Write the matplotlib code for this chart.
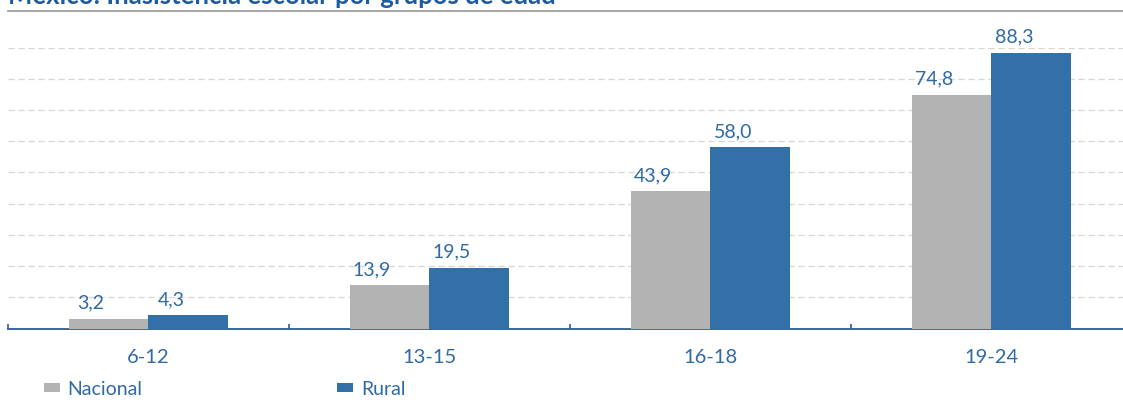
import matplotlib.pyplot as plt
from matplotlib.lines import Line2D
import numpy as np

plt.rcParams['font.family'] = ['Lato', 'DejaVu Sans']

title = "México: Inasistencia escolar por grupos de edad"
grupos = ["6-12", "13-15", "16-18", "19-24"]
nacional = [3.2, 13.9, 43.9, 74.8]
rural = [4.3, 19.5, 58.0, 88.3]

gray = "#b3b3b4"
blue = "#3470a8"
txt = "#2f6aa7"

W, H = 1123, 406
fig = plt.figure(figsize=(W / 100, H / 100), dpi=100)
ax = fig.add_axes([8 / W, 76.5 / H, 1124 / W, 281 / H])

x = np.arange(len(grupos))
w = 0.284
b1 = ax.bar(x - w / 2, nacional, w, color=gray, label="Nacional", zorder=3)
b2 = ax.bar(x + w / 2, rural, w, color=blue, label="Rural", zorder=3)

for bars, vals in ((b1, nacional), (b2, rural)):
    for r, v in zip(bars, vals):
        ax.text(r.get_x() + r.get_width() * 0.28, v + 2.6, f"{v:.1f}".replace(".", ","),
                ha="center", va="bottom", fontsize=14, color=txt, clip_on=False)

ax.set_xlim(-0.5, 3.5)
ax.set_ylim(0, 90)
ax.set_yticks(np.arange(10, 91, 10))
ax.yaxis.grid(True, color="#d6d6d6", linestyle=(0, (5, 3)), linewidth=0.9, zorder=0)
ax.tick_params(axis="y", left=False, labelleft=False)

ax.set_xticks(x)
ax.set_xticklabels(grupos)
ax.tick_params(axis="x", length=0, pad=14, labelsize=14.5, labelcolor=txt)
ax.set_xticks(np.arange(-0.5, 4, 1), minor=True)
ax.tick_params(axis="x", which="minor", direction="in", length=3.5, width=1.2, color="#2a5c9a")

for s in ("left", "right", "top"):
    ax.spines[s].set_visible(False)
ax.spines["bottom"].set_color("#2a5c9a")
ax.spines["bottom"].set_linewidth(1.3)

fig.text(8 / W, 1 - 3.5 / H, title, ha="left", va="baseline", fontsize=18.5,
         fontweight="bold", color="#1c5ba0")
fig.add_artist(Line2D([8 / W, 1], [1 - 12 / H] * 2, color="#a0a0a0", linewidth=1.3,
                      transform=fig.transFigure))

fig.legend(handles=[b1, b2], loc="center left", bbox_to_anchor=(44 / W, 1 - 390 / H),
           ncol=2, frameon=False, fontsize=14, labelcolor=txt, borderpad=0,
           borderaxespad=0, handlelength=0.82, handleheight=0.37, handletextpad=0.4,
           columnspacing=10.0)

fig.savefig("out.png", dpi=100)
